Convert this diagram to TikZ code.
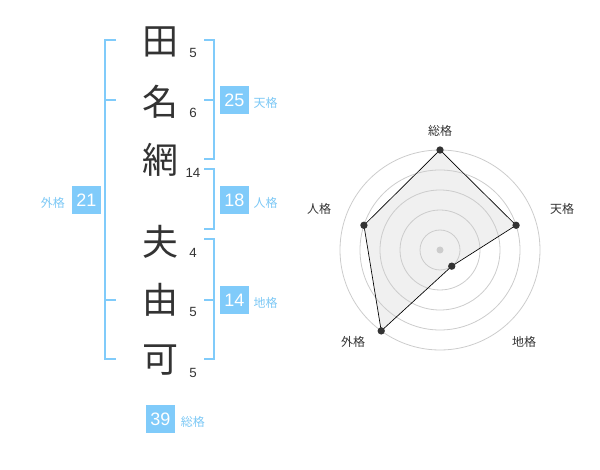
\documentclass[tikz,border=0pt]{standalone}
\usepackage{fontspec}
\setmainfont{Liberation Sans}
\newfontfamily\jpfont{Noto Sans CJK JP}
\usetikzlibrary{positioning}
\definecolor{seiblue}{HTML}{80CBFA}
\definecolor{seitext}{HTML}{7CC8F5}
\definecolor{inkgray}{HTML}{333333}
\definecolor{ringgray}{HTML}{CCCCCC}
\definecolor{areagray}{HTML}{F0F0F0}

\begin{document}
\begin{tikzpicture}[x=0.75pt, y=-0.75pt,
  kanji/.style={text=inkgray, font=\jpfont\fontsize{27}{27}\selectfont, inner sep=0pt},
  strokes/.style={text=inkgray, font=\fontsize{10}{10}\selectfont, inner sep=0pt},
  numbox/.style={fill=seiblue, text=white, minimum width=21.75pt, minimum height=21pt, inner sep=0pt, font=\fontsize{13.5}{13.5}\selectfont},
  kaku/.style={text=seitext, font=\jpfont\fontsize{9}{9}\selectfont, inner sep=0pt},
  brk/.style={seiblue, line width=1.5pt},
  ring/.style={ringgray, line width=0.6pt},
  dot/.style={circle, fill=inkgray, inner sep=0pt, minimum size=5.5pt},
  axis/.style={text=inkgray, font=\jpfont\fontsize{9}{9}\selectfont, inner sep=0pt}]
\useasboundingbox (0,0) rectangle (600,470);

% name, one character a row
\node[kanji] (c1) at (160,42) {田};
\node[kanji] (c2) at (160,102) {名};
\node[kanji] (c3) at (160,160) {網};
\node[kanji] (c4) at (160,242) {夫};
\node[kanji] (c5) at (160,300) {由};
\node[kanji] (c6) at (160,360) {可};
\node[strokes] (s1) at (193,53) {5};
\node[strokes] (s2) at (193,113) {6};
\node[strokes] (s3) at (193,173) {14};
\node[strokes] (s4) at (193,253) {4};
\node[strokes] (s5) at (193,312) {5};
\node[strokes] (s6) at (193,373) {5};

% brackets
\draw[brk] (116,40) -- (105,40) -- (105,359) -- (116,359);
\draw[brk] (105,100) -- (116,100);
\draw[brk] (105,300) -- (116,300);
\draw[brk] (204,40) -- (214,40) -- (214,159) -- (204,159);
\draw[brk] (214,100) -- (204,100);
\draw[brk] (204,169) -- (214,169) -- (214,229) -- (204,229);
\draw[brk] (204,239) -- (214,239) -- (214,359) -- (204,359);
\draw[brk] (214,300) -- (204,300);

% scores
\node[numbox] (ten) at (234.5,100) {25};
\node[kaku, right=3pt of ten, yshift=-2pt] (tenl) {天格};
\node[numbox] (jin) at (234.5,200) {18};
\node[kaku, right=3pt of jin, yshift=-2pt] (jinl) {人格};
\node[numbox] (chi) at (234.5,300) {14};
\node[kaku, right=3pt of chi, yshift=-2pt] (chil) {地格};
\node[numbox] (gai) at (86.5,200) {21};
\node[kaku, left=5pt of gai, yshift=-2pt] (gail) {外格};
\node[numbox] (sou) at (160.5,419) {39};
\node[kaku, right=4pt of sou, yshift=-2pt] (soul) {総格};

% radar chart
\begin{scope}[shift={(440,250)}, yscale=-1]
\coordinate (rsou) at (90:100);
\coordinate (rten) at (18:80);
\coordinate (rchi) at (-54:20);
\coordinate (rgai) at (234:100);
\coordinate (rjin) at (162:80);
\fill[areagray] (rsou) -- (rten) -- (rchi) -- (rgai) -- (rjin) -- cycle;
\foreach \r in {20,40,60,80,100}{\draw[ring] (0,0) circle (\r);}
\fill[ringgray] (0,0) circle (3.5);
\draw[black, line width=0.5pt] (rsou) -- (rten) -- (rchi) -- (rgai) -- (rjin) -- cycle;
\foreach \p in {rsou,rten,rchi,rgai,rjin}{\node[dot] at (\p) {};}
\end{scope}
\node[axis] (asou) at (440,131) {総格};
\node[axis] (aten) at (562,209) {天格};
\node[axis] (achi) at (524,342) {地格};
\node[axis] (agai) at (353,342) {外格};
\node[axis] (ajin) at (319,209) {人格};
\end{tikzpicture}
\end{document}
